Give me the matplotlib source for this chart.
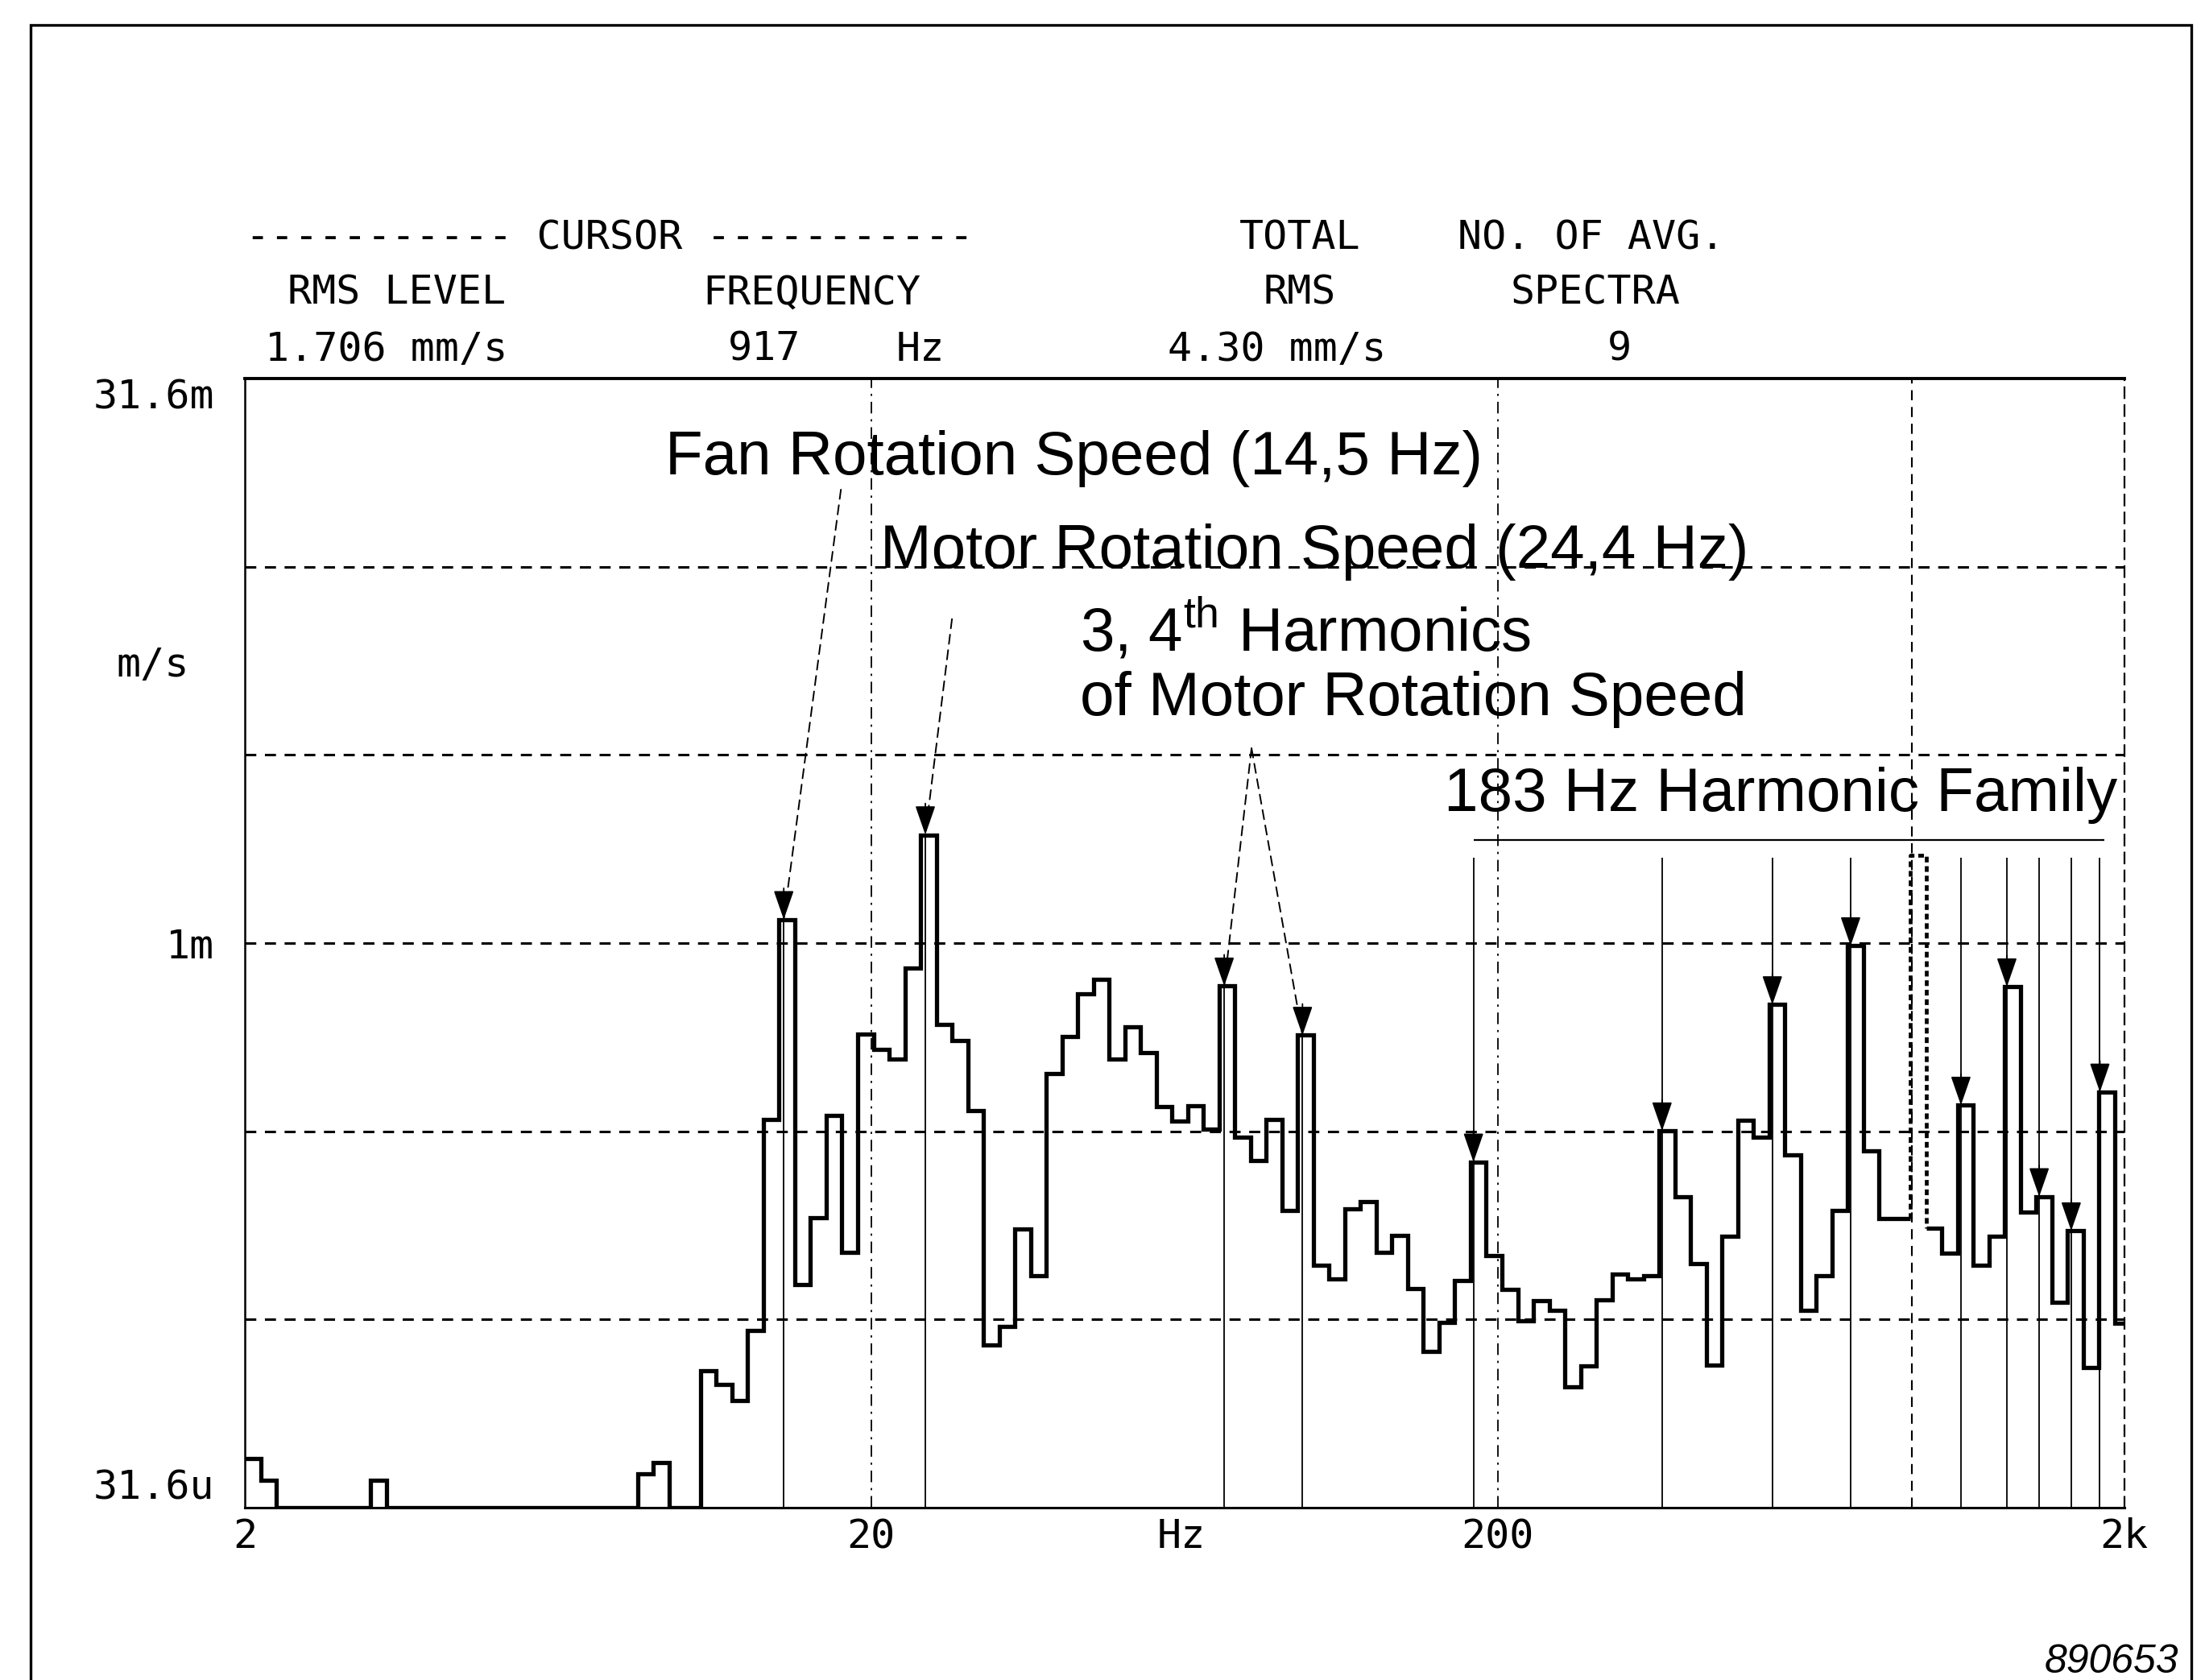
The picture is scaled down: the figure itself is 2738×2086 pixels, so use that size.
import numpy as np
import matplotlib
matplotlib.use("Agg")
import matplotlib.pyplot as plt
from matplotlib.patches import Rectangle

plt.rcParams['mathtext.fontset'] = 'custom'
plt.rcParams['mathtext.rm'] = 'Liberation Sans'

# 1/12-octave analyser bands, 2 Hz .. 2 kHz
band_edges = 2.0 * 2.0 ** (np.arange(121) / 12.0)

# rms velocity per band (m/s); 3.16e-5 = below the display floor
rms_level = np.array([
    4.27e-5, 3.73e-5, 3.16e-5, 3.16e-5, 3.16e-5, 3.16e-5, 3.16e-5, 3.16e-5, 3.73e-5, 3.16e-5, 3.16e-5, 3.16e-5,
    3.16e-5, 3.16e-5, 3.16e-5, 3.16e-5, 3.16e-5, 3.16e-5, 3.16e-5, 3.16e-5, 3.16e-5, 3.16e-5, 3.16e-5, 3.16e-5,
    3.16e-5, 3.89e-5, 4.16e-5, 3.16e-5, 3.16e-5, 7.29e-5, 6.73e-5, 6.08e-5, 9.33e-5, 3.40e-4, 1.155e-3, 1.24e-4,
    1.86e-4, 3.49e-4, 1.51e-4, 5.73e-4, 5.22e-4, 4.91e-4, 8.57e-4, 1.94e-3, 6.08e-4, 5.51e-4, 3.59e-4, 8.57e-5,
    9.58e-5, 1.74e-4, 1.31e-4, 4.50e-4, 5.65e-4, 7.33e-4, 8.00e-4, 4.91e-4, 6.00e-4, 5.12e-4, 3.68e-4, 3.37e-4,
    3.70e-4, 3.21e-4, 7.69e-4, 3.05e-4, 2.64e-4, 3.40e-4, 1.95e-4, 5.69e-4, 1.39e-4, 1.28e-4, 1.97e-4, 2.06e-4,
    1.51e-4, 1.67e-4, 1.21e-4, 8.22e-5, 9.80e-5, 1.27e-4, 2.62e-4, 1.48e-4, 1.20e-4, 9.90e-5, 1.12e-4, 1.06e-4,
    6.63e-5, 7.51e-5, 1.13e-4, 1.32e-4, 1.28e-4, 1.31e-4, 3.17e-4, 2.12e-4, 1.41e-4, 7.58e-5, 1.66e-4, 3.38e-4,
    3.05e-4, 6.86e-4, 2.73e-4, 1.06e-4, 1.31e-4, 1.95e-4, 9.84e-4, 2.81e-4, 1.85e-4, 1.85e-4, 1.71e-3, 1.75e-4,
    1.50e-4, 3.71e-4, 1.39e-4, 1.66e-4, 7.65e-4, 1.93e-4, 2.12e-4, 1.11e-4, 1.72e-4, 7.46e-5, 4.02e-4, 9.75e-5,
])

fan_hz = 14.5
motor_hz = 24.4
motor_harmonics_hz = [73.2, 97.6]
# marker lines of the 183 Hz family as placed on the plot
family_marker_hz = [183, 366, 549, 732, 915, 1098, 1300, 1464, 1647, 1830]
cursor_hz = 917

y_min, y_max = 10 ** -4.5, 10 ** -1.5
grid_levels = [1e-4, 10 ** -3.5, 1e-3, 10 ** -2.5, 1e-2]
family_top = 1.69e-3
family_bar = 1.88e-3

x_ticks = [2, 20, 62.5, 200, 2000]
x_tick_labels = ['2', '20', 'Hz', '200', '2k']
y_ticks = [y_min, 1e-3, y_max]
y_tick_labels = ['31.6u', '1m', '31.6m']

header_rows = [
    [('----------- CURSOR -----------', 305, 'left'), ('TOTAL', 1614, 'center'), ('NO. OF AVG.', 1976, 'center')],
    [('RMS LEVEL', 493, 'center'), ('FREQUENCY', 1008, 'center'), ('RMS', 1614, 'center'), ('SPECTRA', 1981, 'center')],
    [('1.706 mm/s', 480, 'center'), ('917', 949, 'center'), ('Hz', 1143, 'center'),
     ('4.30 mm/s', 1586, 'center'), ('9', 2011, 'center')],
]
header_baselines = [310, 378, 448]

W, H = 2738, 2086
MONO = 'DejaVu Sans Mono'
SANS = 'Liberation Sans'

fig = plt.figure(figsize=(W / 100, H / 100), dpi=100)
ax = fig.add_axes([304 / W, 1 - 1872 / H, (2637.5 - 304) / W, (1872 - 470) / H])
ax.set_xscale('log')
ax.set_yscale('log')
ax.set_xlim(2, 2000)
ax.set_ylim(y_min, y_max)

# grid
for lv in grid_levels:
    ax.axhline(lv, color='black', lw=2.2, linestyle=(0, (4.5, 3.5)), zorder=1)
for f in (20, 200):
    ax.axvline(f, color='black', lw=1.3, linestyle=(0, (8, 4, 1.5, 4)), zorder=1)
ax.axvline(cursor_hz, color='black', lw=1.5, linestyle=(0, (6, 4)), zorder=1)

# spectrum, cursor band drawn dotted
c = np.searchsorted(band_edges, cursor_hz) - 1
ax.stairs(rms_level[:c], band_edges[:c + 1], baseline=None, color='black', lw=3.8, zorder=3)
ax.stairs(rms_level[c + 1:], band_edges[c + 1:], baseline=None, color='black', lw=3.8, zorder=3)
ax.plot([band_edges[c], band_edges[c], band_edges[c + 1], band_edges[c + 1]],
        [rms_level[c - 1], rms_level[c], rms_level[c], rms_level[c + 1]],
        color='black', lw=3.4, linestyle=(0, (1.5, 1)), zorder=3)


def peak_of(f):
    return rms_level[np.searchsorted(band_edges, f) - 1]


def head(f):
    ax.annotate('', xy=(f, peak_of(f)), xytext=(0, 28), textcoords='offset points',
                arrowprops=dict(arrowstyle='-|>,head_length=0.95,head_width=0.33', mutation_scale=24,
                                lw=1.3, color='black', shrinkA=0, shrinkB=0), zorder=4)


def lead(f, start):
    ax.annotate('', xy=(f, peak_of(f)), xytext=start, textcoords='axes fraction',
                arrowprops=dict(arrowstyle='-', lw=1.4, linestyle=(0, (6, 4)), color='black',
                                shrinkA=0, shrinkB=0), zorder=4)


# fan / motor markers
for f in [fan_hz, motor_hz] + motor_harmonics_hz:
    ax.vlines(f, y_min, peak_of(f), color='black', lw=1.3, zorder=2)
    head(f)
lead(fan_hz, (0.3172, 0.9016))
lead(motor_hz, (0.3763, 0.787))
for f in motor_harmonics_hz:
    lead(f, (0.5357, 0.6725))

# 183 Hz family
for f in family_marker_hz:
    if abs(f - cursor_hz) < 5:
        continue
    ax.vlines(f, y_min, family_top, color='black', lw=1.3, zorder=2)
    head(f)
ax.hlines(family_bar, family_marker_hz[0], family_marker_hz[-1] * 1.015, color='black', lw=1.6, zorder=2)

# annotation texts
ann_size = 55
ax.text(0.2237, 0.9153, 'Fan Rotation Speed (14,5 Hz)', transform=ax.transAxes,
        fontsize=ann_size, family=SANS, va='baseline')
ax.text(0.3382, 0.8325, 'Motor Rotation Speed (24,4 Hz)', transform=ax.transAxes,
        fontsize=ann_size, family=SANS, va='baseline')
ax.text(0.4444, 0.7589, r'3, 4$^{\rm th}$ Harmonics', transform=ax.transAxes,
        fontsize=ann_size, family=SANS, va='baseline')
ax.text(0.4444, 0.7015, 'of Motor Rotation Speed', transform=ax.transAxes,
        fontsize=ann_size, family=SANS, va='baseline')
ax.text(0.6379, 0.6168, '183 Hz Harmonic Family', transform=ax.transAxes,
        fontsize=ann_size, family=SANS, va='baseline')

# ticks
ax.set_xticks(x_ticks, x_tick_labels)
ax.set_yticks(y_ticks, y_tick_labels)
ax.minorticks_off()
ax.tick_params(length=0, labelsize=36)
ax.tick_params(axis='x', pad=9)
ax.tick_params(axis='y', pad=27)
for lab in ax.get_xticklabels() + ax.get_yticklabels():
    lab.set_fontfamily(MONO)
ylabs = ax.get_yticklabels()
ylabs[0].set_va('bottom')
ylabs[-1].set_va('top')

ax.spines['top'].set_linewidth(2.8)
ax.spines['left'].set_linewidth(1.8)
ax.spines['bottom'].set_linewidth(2.2)
ax.spines['right'].set_linewidth(1.6)
ax.spines['right'].set_linestyle((0, (6, 4)))

fig.text(190 / W, 1 - 826 / H, 'm/s', ha='center', va='center', fontsize=36, family=MONO)

# header block
for row, yb in zip(header_rows, header_baselines):
    for s, x, ha in row:
        fig.text(x / W, 1 - yb / H, s, ha=ha, va='baseline', fontsize=36, family=MONO)

fig.text(2705 / W, 1 - 2077 / H, '890653', ha='right', va='baseline', fontsize=36,
         family=SANS, style='italic')

# outer frame
fig.add_artist(Rectangle((38 / W, -0.02), (2721 - 38) / W, 1.02 - 31 / H, transform=fig.transFigure,
                         fill=False, lw=2.4, edgecolor='black'))

fig.savefig('out.png', dpi=100)
